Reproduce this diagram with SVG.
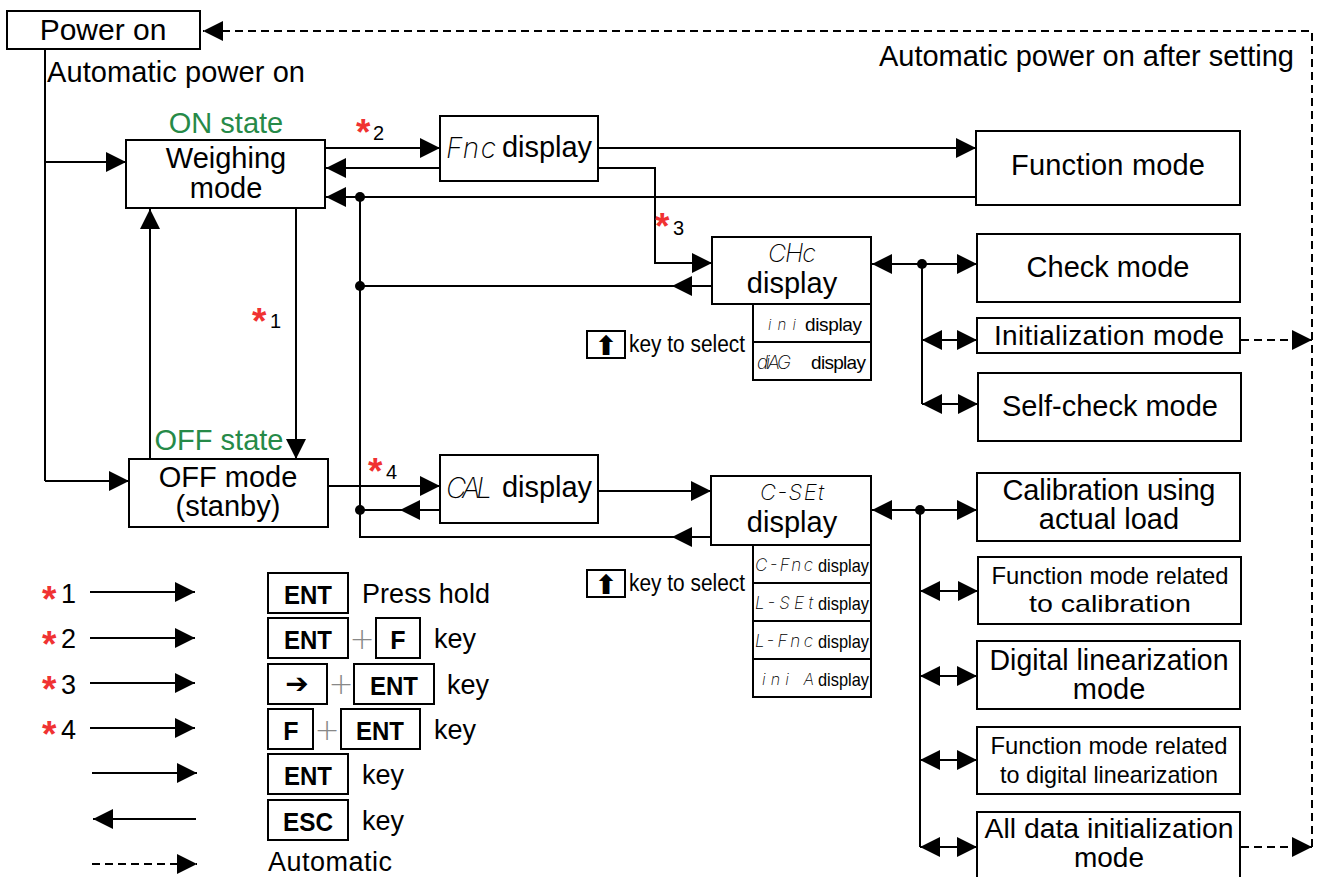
<svg xmlns="http://www.w3.org/2000/svg" width="1318" height="877" viewBox="0 0 1318 877">
<style>
.box{fill:#fff;stroke:#000;stroke-width:2}
.t{font-family:'Liberation Sans',Arial,sans-serif;fill:#000}
.c{text-anchor:middle}
.ln{stroke:#000;stroke-width:2;fill:none}
.dash{stroke-dasharray:8 5}
.g{fill:#268a48}
.ast{font-family:'Liberation Sans',Arial,sans-serif;font-weight:bold;font-size:37px;fill:#f03232}
.seg{font-family:Inter,'DejaVu Sans',sans-serif;font-weight:200;font-style:italic;fill:#000}
.key{font-family:'Liberation Sans',Arial,sans-serif;font-weight:bold;font-size:25px;fill:#000;text-anchor:middle}
.plus{font-family:'DejaVu Sans',sans-serif;font-weight:200;font-size:30px;fill:#888;text-anchor:middle}
.sym{font-family:'DejaVu Sans',sans-serif;font-weight:bold;text-anchor:middle;fill:#000}
</style>
<defs>
<marker id="ah" viewBox="0 0 20 20" markerWidth="20" markerHeight="20" refX="20" refY="10" orient="auto-start-reverse" markerUnits="userSpaceOnUse"><path d="M0,0 L20,10 L0,20 z" fill="#000"/></marker>
</defs>

<g id="connectors">
<path class="ln" d="M45,49 V481"/>
<path class="ln" d="M45,162 H126" marker-end="url(#ah)"/>
<path class="ln" d="M45,481 H129" marker-end="url(#ah)"/>
<path class="ln" d="M150,459 V209" marker-end="url(#ah)"/>
<path class="ln" d="M296,208 V459" marker-end="url(#ah)"/>
<path class="ln" d="M325,148 H440" marker-end="url(#ah)"/>
<path class="ln" d="M440,168 H326" marker-end="url(#ah)"/>
<path class="ln" d="M598,148 H976" marker-end="url(#ah)"/>
<path class="ln" d="M598,168 H655 V263 H712" marker-end="url(#ah)"/>
<path class="ln" d="M976,197 H326" marker-end="url(#ah)"/>
<path class="ln" d="M360,197 V537 H672"/>
<path class="ln" d="M711,537 H672" marker-end="url(#ah)"/>
<path class="ln" d="M712,286 H672" marker-end="url(#ah)"/>
<path class="ln" d="M672,286 H360"/>
<path class="ln" d="M328,486 H440" marker-end="url(#ah)"/>
<path class="ln" d="M440,510 H400" marker-end="url(#ah)"/>
<path class="ln" d="M400,510 H360"/>
<path class="ln" d="M598,491 H711" marker-end="url(#ah)"/>
<circle cx="360" cy="197" r="5"/>
<circle cx="360" cy="286" r="5"/>
<circle cx="360" cy="510" r="5"/>
<path class="ln" d="M872,264 H977" marker-start="url(#ah)" marker-end="url(#ah)"/>
<path class="ln" d="M922,264 V404"/>
<path class="ln" d="M922,340 H977" marker-start="url(#ah)" marker-end="url(#ah)"/>
<path class="ln" d="M922,404 H978" marker-start="url(#ah)" marker-end="url(#ah)"/>
<circle cx="922" cy="264" r="5"/>
<path class="ln" d="M872,510 H977" marker-start="url(#ah)" marker-end="url(#ah)"/>
<path class="ln" d="M920,510 V847"/>
<path class="ln" d="M920,591 H978" marker-start="url(#ah)" marker-end="url(#ah)"/>
<path class="ln" d="M920,676 H977" marker-start="url(#ah)" marker-end="url(#ah)"/>
<path class="ln" d="M920,760 H977" marker-start="url(#ah)" marker-end="url(#ah)"/>
<path class="ln" d="M920,847 H977" marker-start="url(#ah)" marker-end="url(#ah)"/>
<circle cx="920" cy="510" r="5"/>
<path class="ln dash" d="M1312,847 V31 H203" marker-end="url(#ah)"/>
<path class="ln dash" d="M1241,340 H1312" marker-end="url(#ah)"/>
<path class="ln dash" d="M1241,847 H1312" marker-end="url(#ah)"/>
<text class="t" x="879" y="66" font-size="29" textLength="415">Automatic power on after setting</text>
<text class="t" x="47" y="82" font-size="29" textLength="258">Automatic power on</text>
<text class="ast" x="252" y="334">*</text><text class="t" x="270" y="328" font-size="20">1</text>
<text class="ast" x="356" y="145">*</text><text class="t" x="373" y="140" font-size="20">2</text>
<text class="ast" x="655" y="239">*</text><text class="t" x="673" y="235" font-size="20">3</text>
<text class="ast" x="368" y="484">*</text><text class="t" x="386" y="479" font-size="20">4</text>
</g>

<g id="power-on">
<rect class="box" x="7" y="11" width="193" height="38"/>
<text class="t c" x="103" y="40" font-size="30">Power on</text>
</g>

<g id="weighing">
<text class="t c g" x="226" y="133" font-size="29">ON state</text>
<rect class="box" x="126" y="140" width="199" height="68"/>
<text class="t c" x="226" y="168" font-size="29">Weighing</text>
<text class="t c" x="226" y="198" font-size="29">mode</text>
</g>

<g id="off-mode">
<text class="t c g" x="219" y="450" font-size="29">OFF state</text>
<rect class="box" x="129" y="459" width="199" height="68"/>
<text class="t c" x="228" y="487" font-size="29">OFF mode</text>
<text class="t c" x="228" y="516" font-size="29">(stanby)</text>
</g>

<g id="fnc-display">
<rect class="box" x="440" y="116" width="158" height="65"/>
<text class="seg" x="446" y="158" font-size="28" textLength="50" lengthAdjust="spacing">Fnc</text>
<text class="t" x="502" y="157" font-size="29" textLength="90">display</text>
</g>

<g id="function-mode">
<rect class="box" x="976" y="131" width="264" height="74"/>
<text class="t c" x="1108" y="175" font-size="29" textLength="194">Function mode</text>
</g>

<g id="chc-display">
<rect class="box" x="712" y="237" width="159" height="67"/>
<text class="seg c" x="792" y="262" font-size="25" textLength="48" lengthAdjust="spacing">CHc</text>
<text class="t c" x="792" y="293" font-size="29">display</text>
<rect class="box" x="753" y="304" width="118" height="38"/>
<text class="seg" x="768" y="330" font-size="15" textLength="28" lengthAdjust="spacing">ini</text>
<text class="t" x="805" y="331" font-size="19" textLength="57">display</text>
<rect class="box" x="753" y="342" width="118" height="38"/>
<text class="seg" x="757" y="369" font-size="19" textLength="34" lengthAdjust="spacing">diAG</text>
<text class="t" x="811" y="369" font-size="19" textLength="55">display</text>
</g>

<g id="key-select-1">
<rect class="box" x="587" y="331" width="38" height="27"/>
<text class="sym" x="606" y="355" font-size="27">⬆</text>
<text class="t" x="629" y="352" font-size="23" textLength="116" lengthAdjust="spacingAndGlyphs">key to select</text>
</g>

<g id="check-mode">
<rect class="box" x="977" y="234" width="263" height="68"/>
<text class="t c" x="1108" y="277" font-size="29">Check mode</text>
</g>

<g id="init-mode">
<rect class="box" x="977" y="318" width="263" height="35"/>
<text class="t c" x="1109" y="345" font-size="28" textLength="230">Initialization mode</text>
</g>

<g id="selfcheck-mode">
<rect class="box" x="978" y="373" width="263" height="68"/>
<text class="t c" x="1110" y="416" font-size="29">Self-check mode</text>
</g>

<g id="cal-display">
<rect class="box" x="440" y="455" width="158" height="68"/>
<text class="seg" x="446" y="498" font-size="28" textLength="46" lengthAdjust="spacing">CAL</text>
<text class="t" x="502" y="497" font-size="29" textLength="90">display</text>
</g>

<g id="cset-display">
<rect class="box" x="711" y="476" width="160" height="69"/>
<text class="seg c" x="792" y="500" font-size="22" textLength="64" lengthAdjust="spacing">C-SEt</text>
<text class="t c" x="792" y="532" font-size="29">display</text>
<rect class="box" x="753" y="545" width="118" height="38"/>
<text class="seg" x="755" y="571" font-size="17" textLength="58" lengthAdjust="spacing">C-Fnc</text>
<text class="t" x="818" y="572" font-size="19" textLength="51" lengthAdjust="spacingAndGlyphs">display</text>
<rect class="box" x="753" y="583" width="118" height="38"/>
<text class="seg" x="755" y="609" font-size="17" textLength="58" lengthAdjust="spacing">L-SEt</text>
<text class="t" x="818" y="610" font-size="19" textLength="51" lengthAdjust="spacingAndGlyphs">display</text>
<rect class="box" x="753" y="621" width="118" height="38"/>
<text class="seg" x="755" y="647" font-size="17" textLength="58" lengthAdjust="spacing">L-Fnc</text>
<text class="t" x="818" y="648" font-size="19" textLength="51" lengthAdjust="spacingAndGlyphs">display</text>
<rect class="box" x="753" y="659" width="118" height="38"/>
<text class="seg" x="762" y="685" font-size="16" textLength="52" lengthAdjust="spacing">ini A</text>
<text class="t" x="818" y="686" font-size="19" textLength="51" lengthAdjust="spacingAndGlyphs">display</text>
</g>

<g id="key-select-2">
<rect class="box" x="587" y="570" width="38" height="27"/>
<text class="sym" x="606" y="594" font-size="27">⬆</text>
<text class="t" x="629" y="591" font-size="23" textLength="116" lengthAdjust="spacingAndGlyphs">key to select</text>
</g>

<g id="calibration">
<rect class="box" x="977" y="473" width="263" height="68"/>
<text class="t c" x="1109" y="500" font-size="29" textLength="213">Calibration using</text>
<text class="t c" x="1109" y="529" font-size="29">actual load</text>
</g>

<g id="func-cal">
<rect class="box" x="978" y="557" width="263" height="67"/>
<text class="t c" x="1110" y="584" font-size="24" textLength="237" lengthAdjust="spacingAndGlyphs">Function mode related</text>
<text class="t c" x="1110" y="612" font-size="24" textLength="162" lengthAdjust="spacingAndGlyphs">to calibration</text>
</g>

<g id="digital-lin">
<rect class="box" x="977" y="641" width="263" height="68"/>
<text class="t c" x="1109" y="670" font-size="29" textLength="239" lengthAdjust="spacingAndGlyphs">Digital linearization</text>
<text class="t c" x="1109" y="699" font-size="29">mode</text>
</g>

<g id="func-dig">
<rect class="box" x="977" y="727" width="263" height="67"/>
<text class="t c" x="1109" y="754" font-size="24" textLength="237" lengthAdjust="spacingAndGlyphs">Function mode related</text>
<text class="t c" x="1109" y="783" font-size="24" textLength="218" lengthAdjust="spacingAndGlyphs">to digital linearization</text>
</g>

<g id="all-data">
<rect class="box" x="977" y="812" width="263" height="70"/>
<text class="t c" x="1109" y="838" font-size="27" textLength="249" lengthAdjust="spacingAndGlyphs">All data initialization</text>
<text class="t c" x="1109" y="867" font-size="28">mode</text>
</g>

<g id="legend">
<text class="ast" x="42" y="612">*</text><text class="t" x="61" y="603" font-size="27">1</text>
<text class="ast" x="42" y="657">*</text><text class="t" x="61" y="648" font-size="27">2</text>
<text class="ast" x="42" y="702">*</text><text class="t" x="61" y="694" font-size="27">3</text>
<text class="ast" x="42" y="747">*</text><text class="t" x="61" y="739" font-size="27">4</text>
<path class="ln" d="M90,592 H195" marker-end="url(#ah)"/>
<path class="ln" d="M90,638 H195" marker-end="url(#ah)"/>
<path class="ln" d="M90,683 H195" marker-end="url(#ah)"/>
<path class="ln" d="M90,728 H195" marker-end="url(#ah)"/>
<path class="ln" d="M92,773 H197" marker-end="url(#ah)"/>
<path class="ln" d="M196,819 H93" marker-end="url(#ah)"/>
<path class="ln dash" d="M92,864 H197" marker-end="url(#ah)"/>

<rect class="box" x="268" y="573" width="80" height="40"/>
<text class="key" x="308" y="604" textLength="48" lengthAdjust="spacingAndGlyphs">ENT</text>
<text class="t" x="362" y="603" font-size="27" textLength="128">Press hold</text>

<rect class="box" x="268" y="618" width="80" height="40"/>
<text class="key" x="308" y="649" textLength="48" lengthAdjust="spacingAndGlyphs">ENT</text>
<text class="plus" x="362" y="649">+</text>
<rect class="box" x="376" y="618" width="44" height="40"/>
<text class="key" x="398" y="649">F</text>
<text class="t" x="434" y="648" font-size="27">key</text>

<rect class="box" x="268" y="664" width="59" height="40"/>
<text class="sym" x="297" y="693" font-size="28">➔</text>
<text class="plus" x="341" y="694">+</text>
<rect class="box" x="354" y="664" width="80" height="40"/>
<text class="key" x="394" y="695" textLength="48" lengthAdjust="spacingAndGlyphs">ENT</text>
<text class="t" x="447" y="694" font-size="27">key</text>

<rect class="box" x="268" y="709" width="45" height="40"/>
<text class="key" x="291" y="740">F</text>
<text class="plus" x="327" y="740">+</text>
<rect class="box" x="341" y="709" width="79" height="40"/>
<text class="key" x="380" y="740" textLength="48" lengthAdjust="spacingAndGlyphs">ENT</text>
<text class="t" x="434" y="739" font-size="27">key</text>

<rect class="box" x="268" y="754" width="80" height="40"/>
<text class="key" x="308" y="785" textLength="48" lengthAdjust="spacingAndGlyphs">ENT</text>
<text class="t" x="362" y="784" font-size="27">key</text>

<rect class="box" x="268" y="800" width="80" height="40"/>
<text class="key" x="308" y="831" textLength="50" lengthAdjust="spacingAndGlyphs">ESC</text>
<text class="t" x="362" y="830" font-size="27">key</text>

<text class="t" x="268" y="871" font-size="27" textLength="124">Automatic</text>
</g>
</svg>
